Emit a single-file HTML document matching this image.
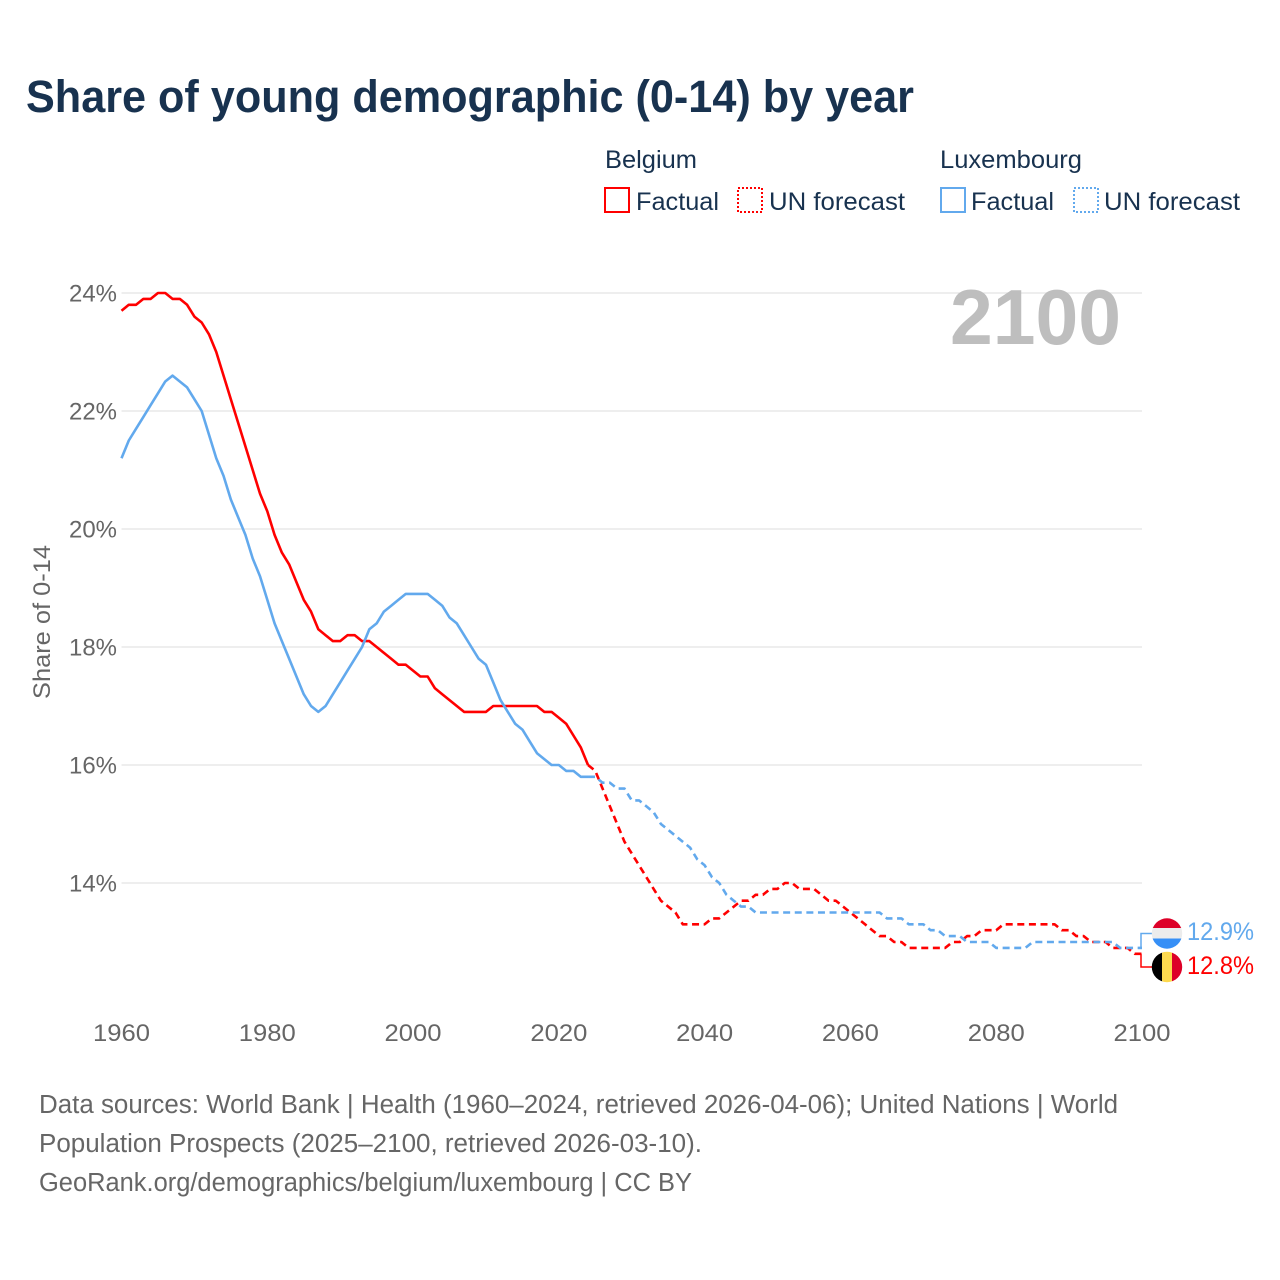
<!DOCTYPE html>
<html lang="en">
<head>
<meta charset="utf-8">
<title>Share of young demographic (0-14) by year</title>
<style>
html,body{margin:0;padding:0;background:#fff;width:1280px;height:1280px;overflow:hidden}
svg{display:block}
text{font-family:"Liberation Sans",sans-serif}
</style>
</head>
<body>
<svg id="chart" xmlns="http://www.w3.org/2000/svg" width="1280" height="1280" viewBox="0 0 1280 1280">
  <defs>
    <clipPath id="clip-lux"><circle cx="1167" cy="933.5" r="15.2"/></clipPath>
    <clipPath id="clip-bel"><circle cx="1167" cy="967" r="15.2"/></clipPath>
  </defs>
  <text x="26" y="112" font-size="45" font-weight="700" fill="#18324f" textLength="888" lengthAdjust="spacingAndGlyphs">Share of young demographic (0-14) by year</text>

  <g>
    <text x="605" y="168" font-size="25" fill="#18324f" textLength="92" lengthAdjust="spacingAndGlyphs">Belgium</text>
    <text x="940" y="168" font-size="25" fill="#18324f" textLength="142" lengthAdjust="spacingAndGlyphs">Luxembourg</text>
    <rect x="605" y="188" width="24" height="24" fill="none" stroke="#ff0000" stroke-width="2"/>
    <text x="636" y="210" font-size="25" fill="#18324f" textLength="83" lengthAdjust="spacingAndGlyphs">Factual</text>
    <rect x="738" y="188" width="24" height="24" fill="none" stroke="#ff0000" stroke-width="2" stroke-dasharray="2 2"/>
    <text x="769" y="210" font-size="25" fill="#18324f" textLength="136" lengthAdjust="spacingAndGlyphs">UN forecast</text>
    <rect x="941" y="188" width="24" height="24" fill="none" stroke="#62a9ed" stroke-width="2"/>
    <text x="971" y="210" font-size="25" fill="#18324f" textLength="83" lengthAdjust="spacingAndGlyphs">Factual</text>
    <rect x="1074" y="188" width="24" height="24" fill="none" stroke="#62a9ed" stroke-width="2" stroke-dasharray="2 2"/>
    <text x="1104" y="210" font-size="25" fill="#18324f" textLength="136" lengthAdjust="spacingAndGlyphs">UN forecast</text>
  </g>

  <g id="grid"></g>
  <g id="yticks"></g>
  <g id="xticks"></g>
  <text transform="translate(50,622) rotate(-90)" text-anchor="middle" font-size="24.5" fill="#666666" textLength="154" lengthAdjust="spacingAndGlyphs">Share of 0-14</text>

  <text x="950" y="344" font-size="78" font-weight="700" fill="#bebebe" textLength="171" lengthAdjust="spacingAndGlyphs">2100</text>

  <g id="series"></g>

  <g clip-path="url(#clip-lux)">
    <rect x="1150" y="917" width="34" height="11" fill="#dd0028"/>
    <rect x="1150" y="928" width="34" height="11" fill="#ececec"/>
    <rect x="1150" y="938.5" width="34" height="12" fill="#368ff6"/>
  </g>
  <g clip-path="url(#clip-bel)">
    <rect x="1150" y="950" width="12.3" height="34" fill="#000000"/>
    <rect x="1162" y="950" width="10.2" height="34" fill="#fdd94f"/>
    <rect x="1172" y="950" width="12" height="34" fill="#dd0028"/>
  </g>
  <text id="label-lux" x="1187" y="940" font-size="25" fill="#62a9ed" textLength="67" lengthAdjust="spacingAndGlyphs"></text>
  <text id="label-bel" x="1187" y="974" font-size="25" fill="#ff0000" textLength="67" lengthAdjust="spacingAndGlyphs"></text>

  <g fill="#666666" font-size="25.5">
    <text x="39" y="1113" textLength="1079" lengthAdjust="spacingAndGlyphs">Data sources: World Bank | Health (1960–2024, retrieved 2026-04-06); United Nations | World</text>
    <text x="39" y="1152" textLength="663" lengthAdjust="spacingAndGlyphs">Population Prospects (2025–2100, retrieved 2026-03-10).</text>
    <text x="39" y="1191" textLength="653" lengthAdjust="spacingAndGlyphs">GeoRank.org/demographics/belgium/luxembourg | CC BY</text>
  </g>
</svg>
<script>
const firstYear = 1960;
const xTickYears = [1960, 1980, 2000, 2020, 2040, 2060, 2080, 2100];
const yTickValues = [14, 16, 18, 20, 22, 24];
const belgiumFactual = [23.7,23.8,23.8,23.9,23.9,24.0,24.0,23.9,23.9,23.8,23.6,23.5,23.3,23.0,22.6,22.2,21.8,21.4,21.0,20.6,20.3,19.9,19.6,19.4,19.1,18.8,18.6,18.3,18.2,18.1,18.1,18.2,18.2,18.1,18.1,18.0,17.9,17.8,17.7,17.7,17.6,17.5,17.5,17.3,17.2,17.1,17.0,16.9,16.9,16.9,16.9,17.0,17.0,17.0,17.0,17.0,17.0,17.0,16.9,16.9,16.8,16.7,16.5,16.3,16.0];
const belgiumForecast = [15.9,15.6,15.3,15.0,14.7,14.5,14.3,14.1,13.9,13.7,13.6,13.5,13.3,13.3,13.3,13.3,13.4,13.4,13.5,13.6,13.7,13.7,13.8,13.8,13.9,13.9,14.0,14.0,13.9,13.9,13.9,13.8,13.7,13.7,13.6,13.5,13.4,13.3,13.2,13.1,13.1,13.0,13.0,12.9,12.9,12.9,12.9,12.9,12.9,13.0,13.0,13.1,13.1,13.2,13.2,13.2,13.3,13.3,13.3,13.3,13.3,13.3,13.3,13.3,13.2,13.2,13.1,13.1,13.0,13.0,13.0,12.9,12.9,12.9,12.8,12.8];
const luxembourgFactual = [21.2,21.5,21.7,21.9,22.1,22.3,22.5,22.6,22.5,22.4,22.2,22.0,21.6,21.2,20.9,20.5,20.2,19.9,19.5,19.2,18.8,18.4,18.1,17.8,17.5,17.2,17.0,16.9,17.0,17.2,17.4,17.6,17.8,18.0,18.3,18.4,18.6,18.7,18.8,18.9,18.9,18.9,18.9,18.8,18.7,18.5,18.4,18.2,18.0,17.8,17.7,17.4,17.1,16.9,16.7,16.6,16.4,16.2,16.1,16.0,16.0,15.9,15.9,15.8,15.8];
const luxembourgForecast = [15.8,15.7,15.7,15.6,15.6,15.4,15.4,15.3,15.2,15.0,14.9,14.8,14.7,14.6,14.4,14.3,14.1,14.0,13.8,13.7,13.6,13.6,13.5,13.5,13.5,13.5,13.5,13.5,13.5,13.5,13.5,13.5,13.5,13.5,13.5,13.5,13.5,13.5,13.5,13.5,13.4,13.4,13.4,13.3,13.3,13.3,13.2,13.2,13.1,13.1,13.1,13.0,13.0,13.0,13.0,12.9,12.9,12.9,12.9,12.9,13.0,13.0,13.0,13.0,13.0,13.0,13.0,13.0,13.0,13.0,13.0,13.0,12.9,12.9,12.9,12.9];

const SVG_NS = "http://www.w3.org/2000/svg";
const RED = "#ff0000";
const BLUE = "#62a9ed";
function xScale(year) { return 121.5 + (year - 1960) * (1142 - 121.5) / 140; }
function yScale(value) { return 293 + (24 - value) * 59; }
function make(tag, attrs, parent) {
  const el = document.createElementNS(SVG_NS, tag);
  for (const k in attrs) el.setAttribute(k, attrs[k]);
  parent.appendChild(el);
  return el;
}
function pathFrom(values, startYear, lead) {
  const pts = [];
  if (lead) pts.push([xScale(lead.year), yScale(lead.value)]);
  values.forEach(function (v, i) { pts.push([xScale(startYear + i), yScale(v)]); });
  return "M" + pts.map(function (p) { return p[0].toFixed(2) + "," + p[1].toFixed(2); }).join("L");
}

const grid = document.getElementById("grid");
const yticks = document.getElementById("yticks");
yTickValues.forEach(function (v) {
  const line = make("line", { x1: xScale(1960), x2: xScale(2100), y1: yScale(v), y2: yScale(v), stroke: "#e9e9e9", "stroke-width": 1.4 }, grid);
  
  
  const t = make("text", { x: 69, y: yScale(v) + 8.5, "font-size": 24.5, fill: "#666666", textLength: 48, lengthAdjust: "spacingAndGlyphs" }, yticks);
  t.textContent = v + "%";
  
  
});
const xticks = document.getElementById("xticks");
xTickYears.forEach(function (y) {
  const t = make("text", { x: xScale(y) - 28.5, y: 1041, "font-size": 24.5, fill: "#666666", textLength: 57, lengthAdjust: "spacingAndGlyphs" }, xticks);
  t.textContent = String(y);
  
  
});

const series = document.getElementById("series");
const forecastStart = firstYear + belgiumFactual.length;
const belLead = { year: forecastStart - 1, value: belgiumFactual[belgiumFactual.length - 1] };
const luxLead = { year: forecastStart - 1, value: luxembourgFactual[luxembourgFactual.length - 1] };
const lineBase = { fill: "none", "stroke-width": 2.6, "stroke-linejoin": "round" };

const belFactLine = make("path", Object.assign({ d: pathFrom(belgiumFactual, firstYear), stroke: RED }, lineBase), series);


const belFcLine = make("path", Object.assign({ d: pathFrom(belgiumForecast, forecastStart, belLead), stroke: RED, "stroke-dasharray": "7 4.6" }, lineBase), series);


const luxFactLine = make("path", Object.assign({ d: pathFrom(luxembourgFactual, firstYear), stroke: BLUE }, lineBase), series);


const luxFcLine = make("path", Object.assign({ d: pathFrom(luxembourgForecast, forecastStart, luxLead), stroke: BLUE, "stroke-dasharray": "7 4.6" }, lineBase), series);



const belEnd = belgiumForecast[belgiumForecast.length - 1];
const luxEnd = luxembourgForecast[luxembourgForecast.length - 1];
const endX = xScale(2100) - 1;
const luxConn = make("path", { d: "M" + endX + "," + yScale(luxEnd) + "V933.5H1152", fill: "none", stroke: BLUE, "stroke-width": 1.5 }, series);


const belConn = make("path", { d: "M" + endX + "," + yScale(belEnd) + "V967H1152", fill: "none", stroke: RED, "stroke-width": 1.5 }, series);


document.getElementById("label-lux").textContent = luxEnd.toFixed(1) + "%";
document.getElementById("label-bel").textContent = belEnd.toFixed(1) + "%";
</script>
</body>
</html>
